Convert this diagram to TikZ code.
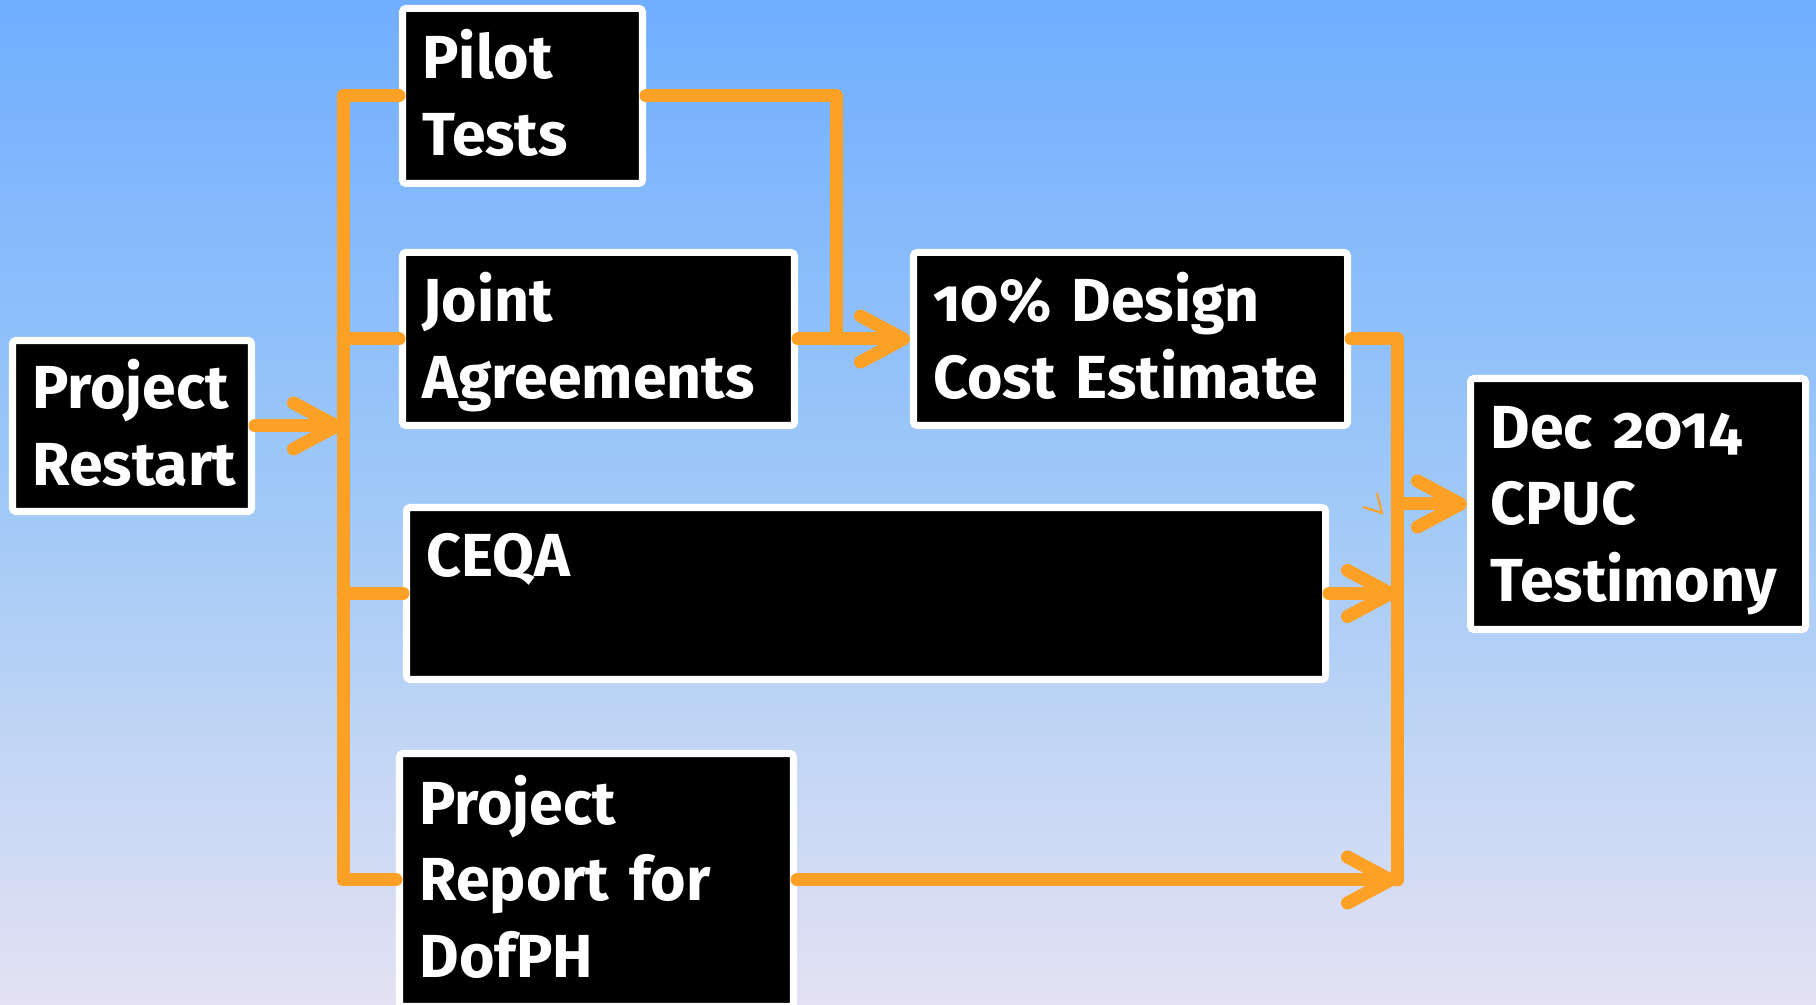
\documentclass[tikz,border=0pt]{standalone}
\usepackage{fontspec}
\setmainfont{Fira Sans}[Numbers=OldStyle]
\usepackage{tikz}
\usetikzlibrary{arrows.meta,positioning}
\definecolor{bgtop}{RGB}{112,174,255}
\definecolor{bgmid}{RGB}{160,201,247}
\definecolor{bgbot}{RGB}{228,226,243}
\definecolor{flowc}{RGB}{253,161,38}

\begin{document}
\begin{tikzpicture}
			[stage/.style={draw=white, line width=2pt, fill=black, rounded corners=1pt, text=white,
			               inner xsep=0.2cm, inner ysep=0pt, align=left,
			               font=\fontsize{17.3}{21.8}\selectfont\bfseries, text height=11.9pt},
			 two/.style={text depth=21.8pt},
			 three/.style={text depth=43.6pt},
			 flow/.style={flowc, line width=3.7pt, line cap=round, line join=round},
			 flowarr/.style={flow, -{Straight Barb[length=0.43cm, width=0.46cm, round]}},]
			\fill[top color=bgtop, bottom color=bgbot, middle color=bgmid] (0,0) rectangle (18.16,10.05);
			\useasboundingbox (0,0) rectangle (18.16,10.05);
			% boxes
			\node[stage, two, minimum width=2.39cm, minimum height=1.71cm, text width=1.99cm] (restart) at (1.32, 5.79) {Project\\Restart};
			\node[stage, two, minimum width=2.40cm, minimum height=1.75cm, text width=2.00cm] (pilot) at (5.225, 9.09) {Pilot\\Tests};
			\node[stage, two, minimum width=3.92cm, minimum height=1.73cm, text width=3.52cm] (joint) at (5.985, 6.66) {Joint\\Agreements};
			\node[stage, two, minimum width=4.34cm, minimum height=1.73cm, text width=3.94cm] (design) at (11.305, 6.66) {10\% Design\\Cost Estimate};
			\node[stage, two, minimum width=9.19cm, minimum height=1.72cm, text width=8.79cm] (ceqa) at (8.66, 4.115) {CEQA};
			\node[stage, three, minimum width=3.94cm, minimum height=2.53cm, text width=3.54cm] (report) at (5.965, 1.25) {Project\\Report for\\DofPH};
			\node[stage, three, minimum width=3.35cm, minimum height=2.51cm, text width=2.95cm] (dec) at (16.38, 5.01) {Dec 2014\\CPUC\\Testimony};
			% buses
			\coordinate (lbustop) at (3.43, 9.09);
			\coordinate (lbusbot) at (3.43, 1.25);
			\coordinate (ptdrop) at (8.36, 6.66);
			\coordinate (rbustop) at (13.97, 6.66);
			\coordinate (rbusbot) at (13.97, 1.25);
			\draw[flowarr] (restart.east) -- (lbustop |- restart.east);
			\draw[flow] (pilot.west) -- (lbustop) -- (lbusbot) -- (report.west);
			\draw[flow] (lbustop |- joint.west) -- (joint.west);
			\draw[flow] (lbustop |- ceqa.west) -- (ceqa.west);
			\draw[flow] (pilot.east) -| (ptdrop);
			\draw[flowarr] (joint.east) -- (design.west);
			\draw[flow] (design.east) -- (rbustop) -- (rbusbot);
			\draw[flowarr] (ceqa.east) -- (rbustop |- ceqa.east);
			\draw[flowarr] (report.east) -- (rbusbot);
			\draw[flowarr] (rbustop |- dec.west) -- (dec.west);
			\draw[flowc, line width=0.6pt] (13.63, 4.98) -- (13.82, 4.92) -- (13.77, 5.12);
\end{tikzpicture}
\end{document}
